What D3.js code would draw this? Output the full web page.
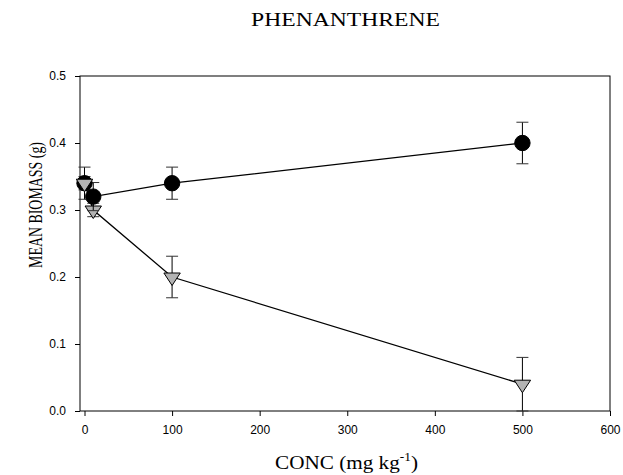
<!DOCTYPE html>
<html><head><meta charset="utf-8">
<script src="https://cdn.jsdelivr.net/npm/d3@7"></script>
<style>body{margin:0;background:#fff}svg{display:block}</style>
</head><body>
<script>
const conc = [0, 10, 100, 500];
const circleMean = [0.34, 0.32, 0.34, 0.40];
const circleErr = [0.024, 0.021, 0.024, 0.031];
const triMean = [0.34, 0.30, 0.20, 0.04];
const triErr = [0.01, 0.01, 0.031, 0.04];
const xTicks = [0, 100, 200, 300, 400, 500, 600];
const yTicks = [0.0, 0.1, 0.2, 0.3, 0.4, 0.5];

const W = 623, H = 475;
const serif = "'Liberation Serif', 'Times New Roman', serif";
const sans = "Arial, 'Liberation Sans', sans-serif";
const svg = d3.select("body").append("svg").attr("width", W).attr("height", H);
const x = d3.scaleLinear().domain([0, 600]).range([84.5, 610]);
const y = d3.scaleLinear().domain([0, 0.5]).range([411, 76]);

// frame
svg.append("rect").attr("x", 80).attr("y", 76).attr("width", 530).attr("height", 335)
  .attr("fill", "none").attr("stroke", "#000").attr("stroke-width", 1);

const xAxis = svg.append("g").attr("transform", "translate(0,411)")
  .call(d3.axisBottom(x).tickValues(xTicks).tickSize(5).tickPadding(9).tickFormat(d3.format("d")));
const yAxis = svg.append("g").attr("transform", "translate(80,0)")
  .call(d3.axisLeft(y).tickValues(yTicks).tickSize(5).tickPadding(9).tickFormat(d3.format(".1f")));
[xAxis, yAxis].forEach(a => {
  a.select(".domain").remove();
  a.selectAll("text").attr("font-family", sans).attr("font-size", 12).attr("fill", "#000");
  a.selectAll("line").attr("stroke", "#000");
});

function series(means, errs) {
  const g = svg.append("g");
  const pts = conc.map((c, i) => ({x: c, m: means[i], e: errs[i]}));
  pts.forEach(p => {
    const lo = Math.max(0, p.m - p.e), hi = p.m + p.e;
    g.append("line").attr("x1", x(p.x)).attr("x2", x(p.x)).attr("y1", y(lo)).attr("y2", y(hi))
      .attr("stroke", "#000").attr("stroke-width", 1);
    [lo, hi].forEach(v => g.append("line").attr("x1", x(p.x) - 6).attr("x2", x(p.x) + 6)
      .attr("y1", y(v)).attr("y2", y(v)).attr("stroke", "#333").attr("stroke-width", 1));
  });
  g.append("path").datum(pts)
    .attr("d", d3.line().x(d => x(d.x)).y(d => y(d.m)))
    .attr("fill", "none").attr("stroke", "#000").attr("stroke-width", 1.3);
  return {g, pts};
}

const tri = series(triMean, triErr);
const cir = series(circleMean, circleErr);

cir.g.selectAll("circle").data(cir.pts).join("circle")
  .attr("cx", d => x(d.x)).attr("cy", d => y(d.m)).attr("r", 7.7)
  .attr("fill", "#000").attr("stroke", "#000");

tri.g.selectAll("path.t").data(tri.pts).join("path").attr("class", "t")
  .attr("transform", d => `translate(${x(d.x)},${y(d.m)})`)
  .attr("d", "M-8.2,-4 L8.2,-4 L0,8.5 Z")
  .attr("fill", "#b3b3b3").attr("stroke", "#000").attr("stroke-width", 1);
svg.node().appendChild(tri.g.selectAll("path.t").nodes()[0]);

function fit(t, cx, cy, target, rot) {
  const w = t.node().getBBox().width;
  const s = target / w;
  t.attr("transform", `translate(${cx},${cy}) rotate(${rot}) scale(${s},1)`);
}

const title = svg.append("text").attr("text-anchor", "middle")
  .attr("font-family", serif).attr("font-size", 19).text("PHENANTHRENE");
fit(title, 345.5, 26, 189, 0);

const xl = svg.append("text").attr("text-anchor", "middle")
  .attr("font-family", serif).attr("font-size", 19);
xl.append("tspan").text("CONC (mg kg");
xl.append("tspan").attr("font-size", 12).attr("dy", -8).text("-1");
xl.append("tspan").attr("dy", 8).text(")");
fit(xl, 346.5, 469, 143, 0);

const yl = svg.append("text").attr("text-anchor", "middle")
  .attr("font-family", serif).attr("font-size", 19).text("MEAN BIOMASS (g)");
fit(yl, 42, 205, 126, -90);
</script>
</body></html>
